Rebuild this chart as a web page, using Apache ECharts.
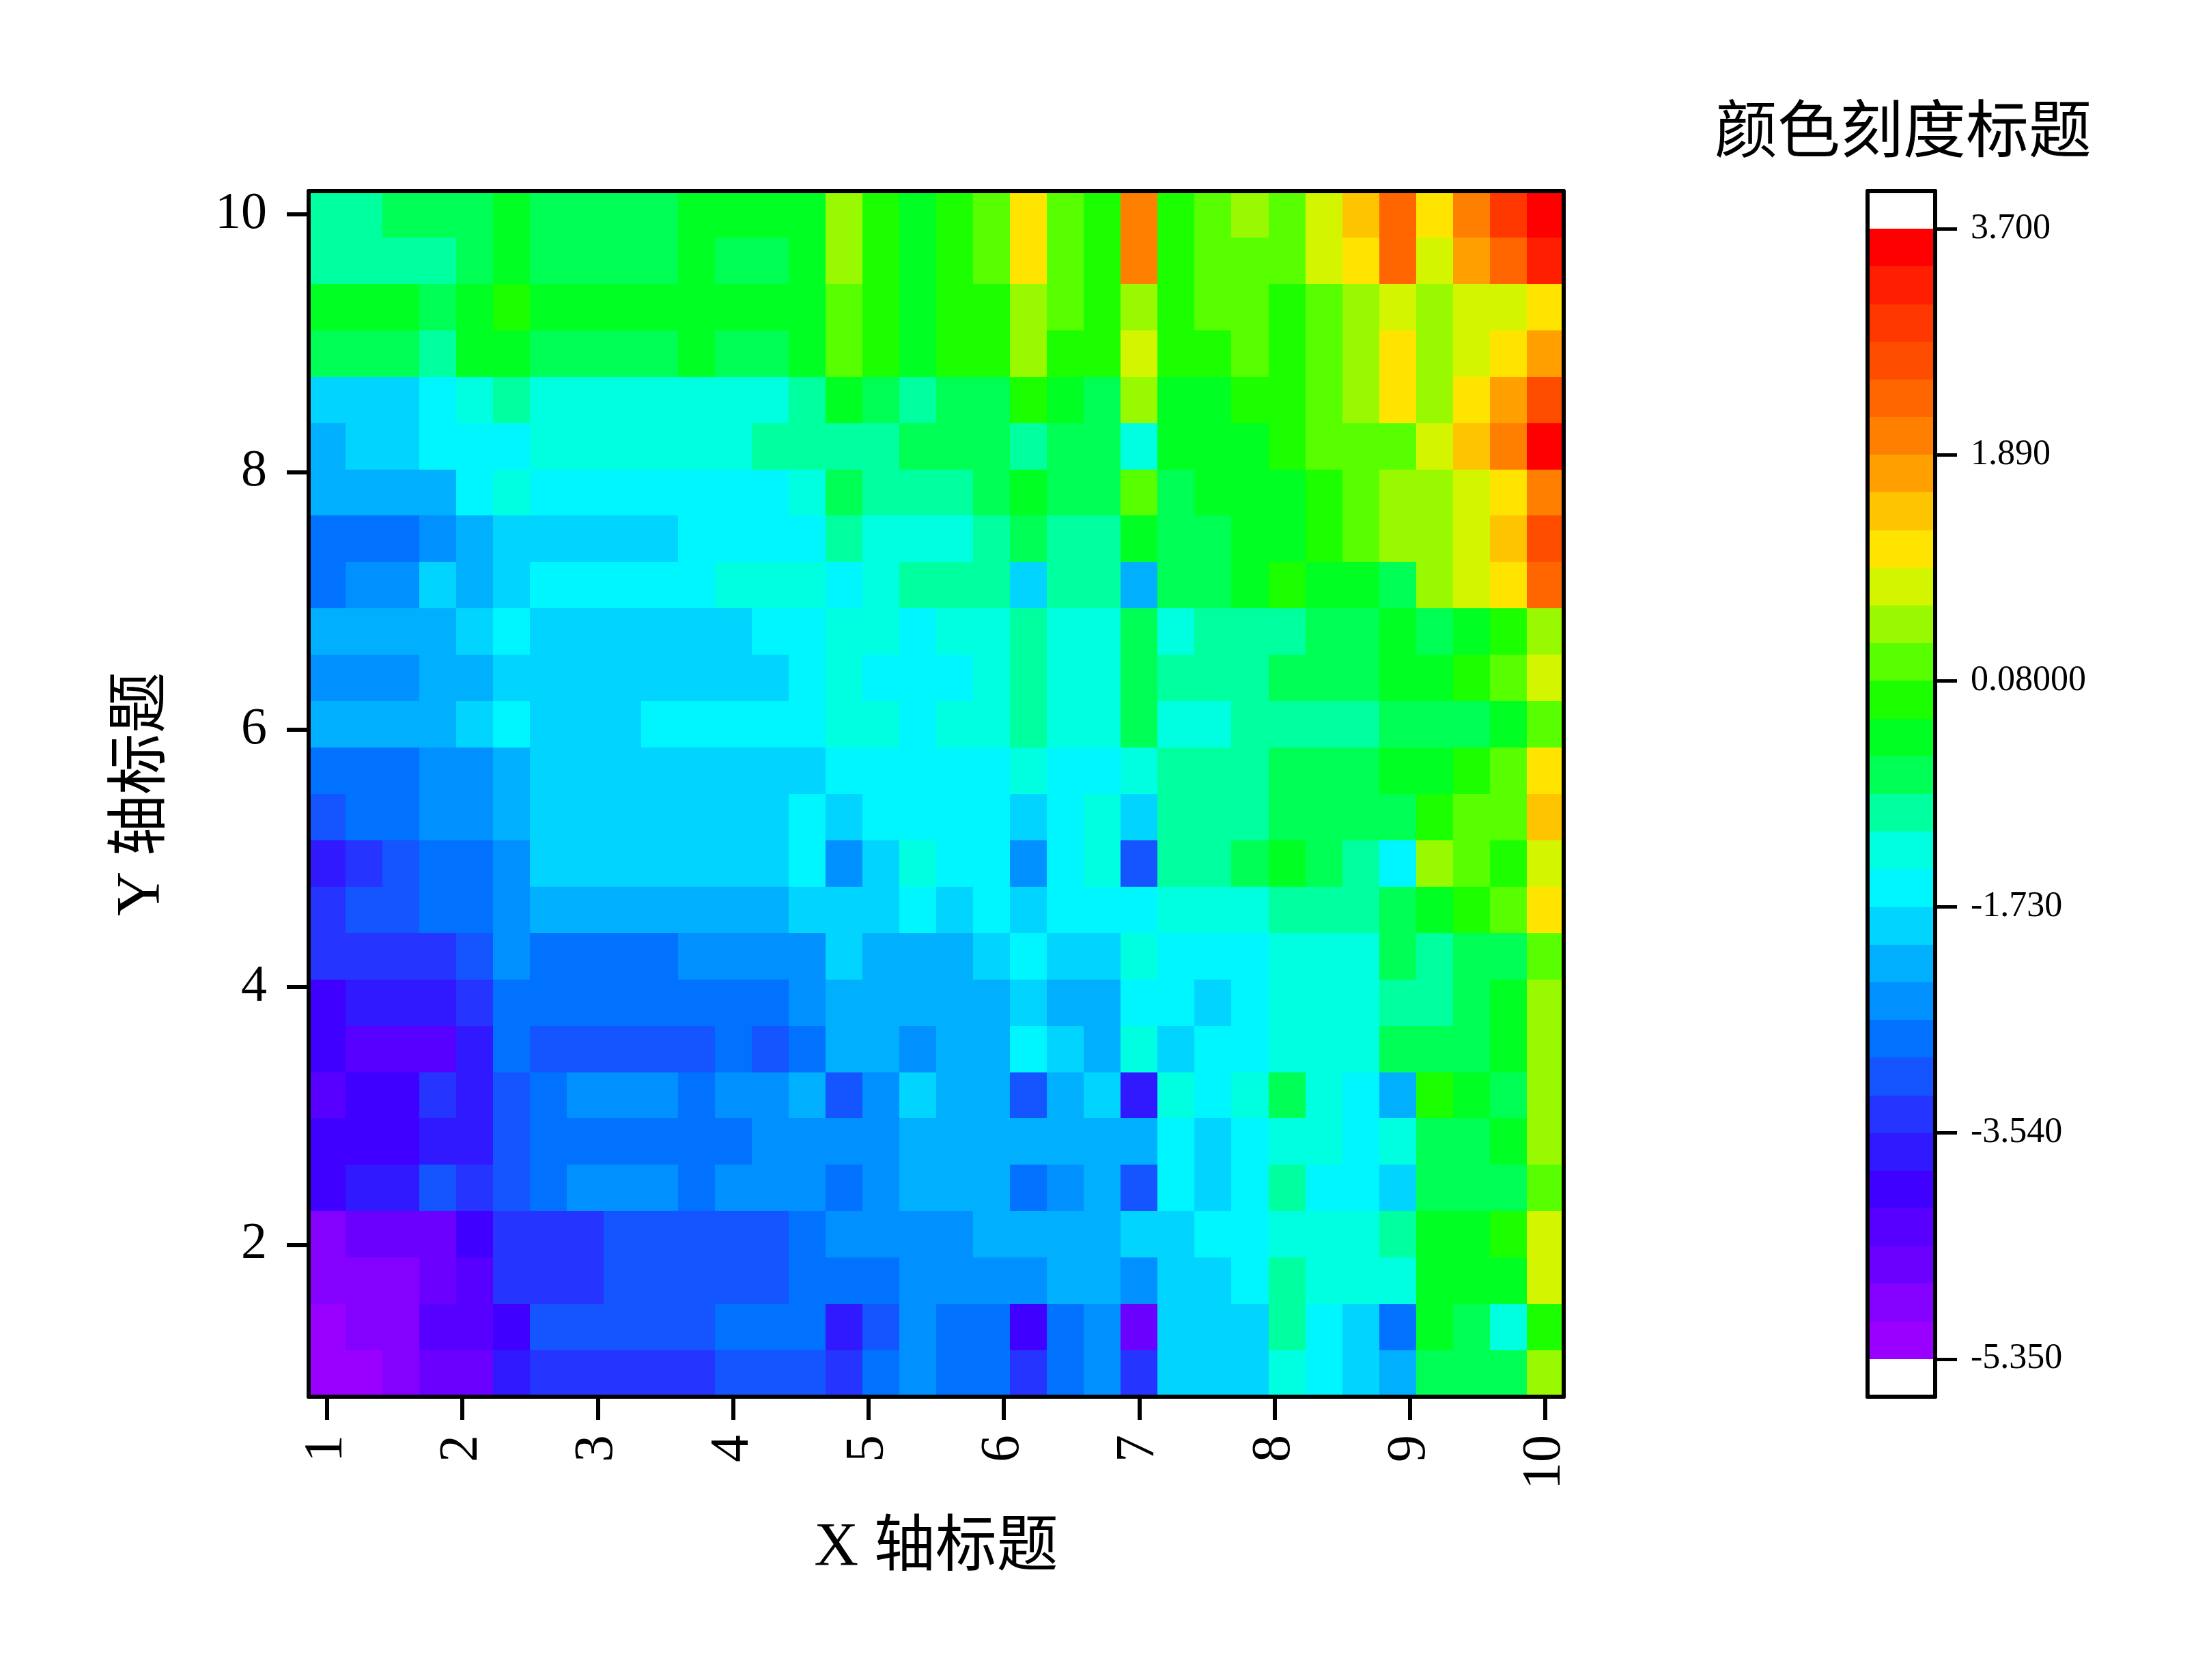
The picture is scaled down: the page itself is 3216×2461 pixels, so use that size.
<!DOCTYPE html>
<html>
<head>
<meta charset="utf-8">
<style>
  html, body { margin: 0; padding: 0; background: #fff; }
  #chart { width: 3216px; height: 2461px; }
</style>
<script src="https://cdn.jsdelivr.net/npm/echarts@6/dist/echarts.min.js"></script>
</head>
<body>
<div id="chart"></div>
<script>
// colour bands, one row per y step, top row (y = 10) first
const row01 = [14,14,15,15,15,16,15,15,15,15,16,16,16,16,19,17,16,17,18,21,18,17,24,17,18,19,18,20,22,25,21,24,27,29];
const row02 = [14,14,14,14,15,16,15,15,15,15,16,15,15,16,19,17,16,17,18,21,18,17,24,17,18,18,18,20,21,25,20,23,25,28];
const row03 = [16,16,16,15,16,17,16,16,16,16,16,16,16,16,18,17,16,17,17,19,18,17,19,17,18,18,17,18,19,20,19,20,20,21];
const row04 = [15,15,15,14,16,16,15,15,15,15,16,15,15,16,18,17,16,17,17,19,17,17,20,17,17,18,17,18,19,21,19,20,21,23];
const row05 = [11,11,11,12,13,14,13,13,13,13,13,13,13,14,16,15,14,15,15,17,16,15,19,16,16,17,17,18,19,21,19,21,23,26];
const row06 = [10,11,11,12,12,12,13,13,13,13,13,13,14,14,14,14,15,15,15,14,15,15,13,16,16,16,17,18,18,18,20,22,24,29];
const row07 = [10,10,10,10,12,13,12,12,12,12,12,12,12,13,15,14,14,14,15,16,15,15,18,15,16,16,16,17,18,19,19,20,21,24];
const row08 = [8,8,8,9,10,11,11,11,11,11,12,12,12,12,14,13,13,13,14,15,14,14,16,15,15,16,16,17,18,19,19,20,22,26];
const row09 = [8,9,9,11,10,11,12,12,12,12,12,13,13,13,12,13,14,14,14,11,14,14,10,15,15,16,17,16,16,15,19,20,21,25];
const row10 = [10,10,10,10,11,12,11,11,11,11,11,11,12,12,13,13,12,13,13,14,13,13,15,13,14,14,14,15,15,16,15,16,17,19];
const row11 = [9,9,9,10,10,11,11,11,11,11,11,11,11,12,13,12,12,12,13,14,13,13,15,14,14,14,15,15,15,16,16,17,18,20];
const row12 = [10,10,10,10,11,12,11,11,11,12,12,12,12,12,13,13,12,13,13,14,13,13,15,13,13,14,14,14,14,15,15,15,16,18];
const row13 = [8,8,8,9,9,10,11,11,11,11,11,11,11,11,12,12,12,12,12,13,12,12,13,14,14,14,15,15,15,16,16,17,18,21];
const row14 = [7,8,8,9,9,10,11,11,11,11,11,11,11,12,11,12,12,12,12,11,12,13,11,14,14,14,15,15,15,15,17,18,18,22];
const row15 = [5,6,7,8,8,9,11,11,11,11,11,11,11,12,9,11,13,12,12,9,12,13,7,14,14,15,16,15,14,12,19,18,17,20];
const row16 = [6,7,7,8,8,9,10,10,10,10,10,10,10,11,11,11,12,11,12,11,12,12,12,13,13,13,14,14,14,15,16,17,18,21];
const row17 = [6,6,6,6,7,9,8,8,8,8,9,9,9,9,11,10,10,10,11,12,11,11,13,12,12,12,13,13,13,15,14,15,15,18];
const row18 = [4,5,5,5,6,8,8,8,8,8,8,8,8,9,10,10,10,10,10,11,10,10,12,12,11,12,13,13,13,14,14,15,16,19];
const row19 = [4,3,3,3,5,8,7,7,7,7,7,8,7,8,10,10,9,10,10,12,11,10,13,11,12,12,13,13,13,15,15,15,16,19];
const row20 = [3,4,4,6,5,7,8,9,9,9,8,9,9,10,7,9,11,10,10,7,10,11,5,13,12,13,15,13,12,10,17,16,15,19];
const row21 = [4,4,4,5,5,7,8,8,8,8,8,8,9,9,9,9,10,10,10,10,10,10,10,12,11,12,13,13,12,13,15,15,16,19];
const row22 = [4,5,5,7,6,7,8,9,9,9,8,9,9,9,8,9,10,10,10,8,9,10,7,12,11,12,14,12,12,11,15,15,15,18];
const row23 = [1,2,2,2,4,6,6,6,7,7,7,7,7,8,9,9,9,9,10,10,10,10,11,11,12,12,13,13,13,14,16,16,17,20];
const row24 = [1,1,1,2,3,6,6,6,7,7,7,7,7,8,8,8,9,9,9,9,10,10,9,11,11,12,14,13,13,13,16,16,16,20];
const row25 = [0,1,1,3,3,4,7,7,7,7,7,8,8,8,5,7,9,8,8,4,8,9,2,11,11,11,14,12,11,8,16,15,13,17];
const row26 = [0,0,1,2,2,5,6,6,6,6,6,7,7,7,6,8,9,8,8,6,8,9,6,11,11,11,13,12,11,10,15,15,15,19];
const rows = [row01,row02,row03,row04,row05,row06,row07,row08,row09,row10,row11,row12,row13,
              row14,row15,row16,row17,row18,row19,row20,row21,row22,row23,row24,row25,row26];

// colour scale, lowest band first
const palette = ['#9a00ff','#8400ff','#6c00ff','#5800ff','#4000ff','#3018ff','#2535ff','#1555ff','#0072ff','#0090ff',
                 '#00b0ff','#00d4ff','#00f6ff','#00ffe0','#00ff9f','#00ff55','#00ff22','#1cff00','#58ff00','#98f900',
                 '#d4f500','#ffe400','#ffc400','#ffa000','#ff8000','#ff6600','#ff4d00','#ff3800','#ff1e00','#ff0000'];
const zMin = -5.35;
const zMax = 3.7;
const zStep = (zMax - zMin) / palette.length;

const xTicks = [1, 2, 3, 4, 5, 6, 7, 8, 9, 10];
const yTicks = [2, 4, 6, 8, 10];
const cbarTicks = [3.7, 1.89, 0.08, -1.73, -3.54, -5.35];
const cbarLabels = ['3.700', '1.890', '0.08000', '-1.730', '-3.540', '-5.350'];

// the grid runs from 1 to 10 on both axes
const dx = 9 / 33;
const dy = 9 / 25;
const cellData = [];
rows.forEach((row, r) => {
    row.forEach((band, c) => {
        cellData.push([1 + c * dx, 10 - r * dy, zMin + (band + 0.5) * zStep]);
    });
});
const cbarData = palette.map((c, i) => [0.5, zMin + (i + 0.5) * zStep, zMin + (i + 0.5) * zStep]);

const fontSerif = '"Liberation Serif", "Noto Sans CJK SC"';

// one filled rectangle per data point, sized through the axis scales
function cellRenderer(halfW, halfH) {
    return (params, api) => {
        const a = api.coord([api.value(0) - halfW, api.value(1) + halfH]);
        const b = api.coord([api.value(0) + halfW, api.value(1) - halfH]);
        const x = Math.round(a[0]);
        const y = Math.round(a[1]);
        return {
            type: 'rect',
            shape: { x: x, y: y, width: Math.round(b[0]) - x, height: Math.round(b[1]) - y },
            style: { fill: api.visual('color') }
        };
    };
}

const frameLine = { show: true, onZero: false, lineStyle: { color: '#000', width: 6 } };
const frameAxis = (gridIndex, min, max, position) => ({
    type: 'value', gridIndex, min, max, position, z: 10,
    axisLine: frameLine, axisTick: { show: false }, axisLabel: { show: false }, splitLine: { show: false }
});

const xMin = 1 - dx / 2, xMax = 10 + dx / 2;
const yMin = 1 - dy / 2, yMax = 10 + dy / 2;
const barMin = zMin - zStep, barMax = zMax + zStep;

const option = {
    backgroundColor: '#fff',
    animation: false,
    title: {
        text: '颜色刻度标题',
        left: 2782,
        top: 148,
        textAlign: 'center',
        textStyle: { fontFamily: fontSerif, fontSize: 92, fontWeight: 'normal', color: '#000' }
    },
    grid: [
        { left: 452, top: 280, width: 1838, height: 1766 },
        { left: 2735, top: 280, width: 99, height: 1766 }
    ],
    visualMap: {
        show: false,
        type: 'piecewise',
        dimension: 2,
        seriesIndex: [0, 1],
        pieces: palette.map((c, i) => ({ min: zMin + i * zStep, max: zMin + (i + 1) * zStep, color: c }))
    },
    xAxis: [
        {
            type: 'value', gridIndex: 0, min: xMin, max: xMax, position: 'bottom', z: 10,
            name: 'X 轴标题', nameLocation: 'middle', nameGap: 178,
            nameTextStyle: { fontFamily: fontSerif, fontSize: 90, color: '#000' },
            axisLine: frameLine,
            axisTick: { show: true, customValues: xTicks, length: 34, lineStyle: { color: '#000', width: 6 } },
            axisLabel: {
                show: true, customValues: xTicks, rotate: 90, margin: 56,
                fontFamily: fontSerif, fontSize: 80, color: '#000'
            },
            splitLine: { show: false }
        },
        frameAxis(0, xMin, xMax, 'top'),
        frameAxis(1, 0, 1, 'bottom'),
        frameAxis(1, 0, 1, 'top')
    ],
    yAxis: [
        {
            type: 'value', gridIndex: 0, min: yMin, max: yMax, position: 'left', z: 10,
            name: 'Y 轴标题', nameLocation: 'middle', nameGap: 198, nameRotate: 90,
            nameTextStyle: { fontFamily: fontSerif, fontSize: 90, color: '#000' },
            axisLine: frameLine,
            axisTick: { show: true, customValues: yTicks, length: 32, lineStyle: { color: '#000', width: 6 } },
            axisLabel: {
                show: true, customValues: yTicks, margin: 61,
                fontFamily: fontSerif, fontSize: 76, color: '#000'
            },
            splitLine: { show: false }
        },
        frameAxis(0, yMin, yMax, 'right'),
        frameAxis(1, barMin, barMax, 'left'),
        {
            type: 'value', gridIndex: 1, min: barMin, max: barMax, position: 'right', z: 10,
            axisLine: frameLine,
            axisTick: { show: true, customValues: cbarTicks, length: 32, lineStyle: { color: '#000', width: 5 } },
            axisLabel: {
                show: true, customValues: cbarTicks, margin: 52,
                formatter: (v) => cbarLabels[cbarTicks.indexOf(v)],
                fontFamily: fontSerif, fontSize: 52, color: '#000'
            },
            splitLine: { show: false }
        }
    ],
    series: [
        {
            type: 'custom',
            xAxisIndex: 0,
            yAxisIndex: 0,
            data: cellData,
            encode: { x: 0, y: 1 },
            renderItem: cellRenderer(dx / 2, dy / 2)
        },
        {
            type: 'custom',
            xAxisIndex: 2,
            yAxisIndex: 2,
            data: cbarData,
            encode: { x: 0, y: 1 },
            renderItem: cellRenderer(0.5, zStep / 2)
        }
    ]
};

const chartInstance = echarts.init(document.getElementById('chart'));
chartInstance.setOption(option);
</script>
</body>
</html>
